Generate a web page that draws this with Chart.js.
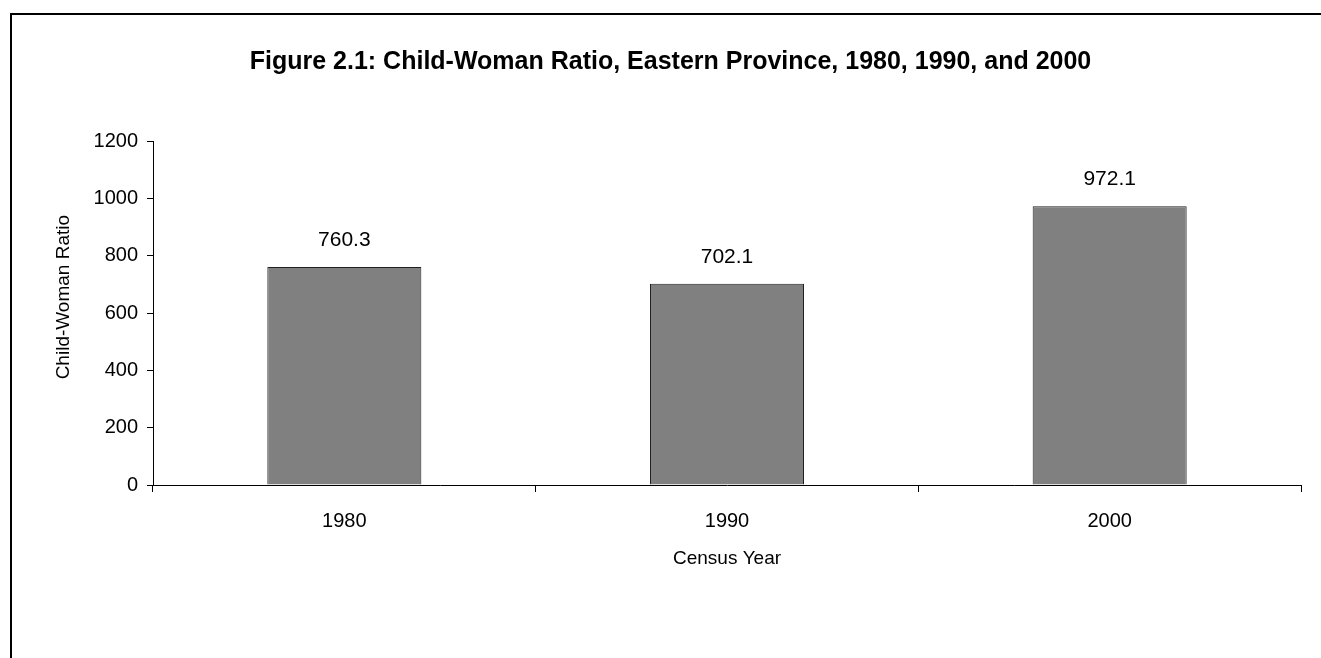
<!DOCTYPE html>
<html>
<head>
<meta charset="utf-8">
<script src="https://cdn.jsdelivr.net/npm/chart.js@4.4.1/dist/chart.umd.min.js"></script>
<style>
  html, body { margin: 0; padding: 0; background: #fff; }
  canvas { display: block; }
</style>
</head>
<body>
<canvas id="chart" width="1321" height="658"></canvas>
<script>
// Census years and the child-woman ratio recorded for each
const censusYears = ['1980', '1990', '2000'];
const childWomanRatio = [760.3, 702.1, 972.1];
const yTicks = [0, 200, 400, 600, 800, 1000, 1200];

const FONT = '"Liberation Sans", Arial, sans-serif';

// Outer frame (top and left edges) drawn behind the chart
const framePlugin = {
  id: 'frame',
  beforeDraw(chart) {
    const ctx = chart.ctx;
    ctx.save();
    ctx.fillStyle = '#fff';
    ctx.fillRect(0, 0, chart.width, chart.height);
    ctx.strokeStyle = '#000';
    ctx.lineWidth = 2;
    ctx.beginPath();
    ctx.moveTo(11, chart.height);
    ctx.lineTo(11, 14);
    ctx.lineTo(chart.width, 14);
    ctx.stroke();
    ctx.restore();
  }
};

// Value labels above each bar
const valueLabels = {
  id: 'valueLabels',
  afterDatasetsDraw(chart) {
    const ctx = chart.ctx;
    const meta = chart.getDatasetMeta(0);
    const values = chart.data.datasets[0].data;
    ctx.save();
    ctx.fillStyle = '#000';
    ctx.font = '21px ' + FONT;
    ctx.textAlign = 'center';
    ctx.textBaseline = 'middle';
    meta.data.forEach((bar, i) => {
      ctx.fillText(values[i].toFixed(1), bar.x, bar.y - 27);
    });
    ctx.restore();
  }
};

new Chart(document.getElementById('chart'), {
  type: 'bar',
  data: {
    labels: censusYears,
    datasets: [{
      data: childWomanRatio,
      backgroundColor: '#808080',
      borderColor: '#202020',
      borderWidth: 1,
      barPercentage: 0.4025,
      categoryPercentage: 1.0
    }]
  },
  options: {
    responsive: false,
    animation: false,
    events: [],
    layout: { padding: { left: 40, right: 20, top: 0, bottom: 0 } },
    plugins: {
      legend: { display: false },
      tooltip: { enabled: false },
      title: {
        display: true,
        text: 'Figure 2.1: Child-Woman Ratio, Eastern Province, 1980, 1990, and 2000',
        color: '#000',
        font: { family: FONT, size: 25, weight: 'bold', lineHeight: 1.2 },
        padding: { top: 47, bottom: 64 }
      }
    },
    scales: {
      x: {
        grid: {
          offset: true,
          drawOnChartArea: false,
          drawTicks: true,
          tickLength: 7,
          color: '#000'
        },
        border: { color: '#000', width: 1 },
        ticks: {
          color: '#000',
          font: { family: FONT, size: 20 },
          padding: 17
        },
        title: {
          display: true,
          text: 'Census Year',
          color: '#000',
          font: { family: FONT, size: 19, lineHeight: 1.2 },
          padding: { top: 10, bottom: 88 }
        },
        afterFit(scale) { scale.height = 658 - 485; }
      },
      y: {
        min: 0,
        max: 1200,
        afterBuildTicks(scale) { scale.ticks = yTicks.map(v => ({ value: v })); },
        grid: {
          drawOnChartArea: false,
          drawTicks: true,
          tickLength: 6,
          color: '#000'
        },
        border: { color: '#000', width: 1 },
        ticks: {
          color: '#000',
          font: { family: FONT, size: 20 },
          padding: 9,
          callback: (v) => String(v)
        },
        title: {
          display: true,
          text: '      Child-Woman Ratio',
          color: '#000',
          font: { family: FONT, size: 19, lineHeight: 1.2 },
          padding: { top: 12, bottom: 0 }
        },
        afterFit(scale) { scale.width = 113; }
      }
    }
  },
  plugins: [framePlugin, valueLabels]
});
</script>
</body>
</html>
